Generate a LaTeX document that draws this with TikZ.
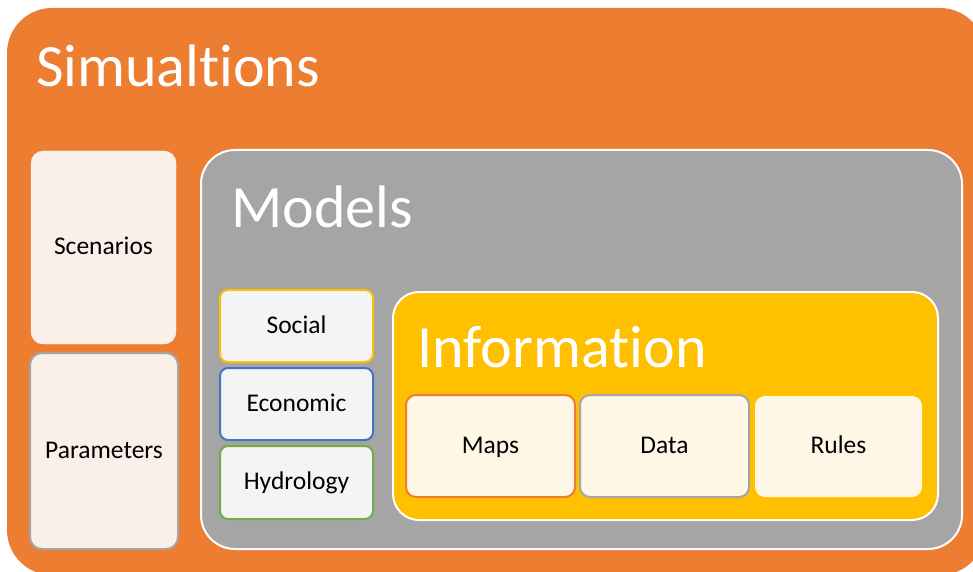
\documentclass[tikz,border=0pt]{standalone}
\usepackage{fontspec}
\setmainfont{Carlito}[Ligatures=NoCommon]
\definecolor{sorange}{HTML}{ED7D31}
\definecolor{sgray}{HTML}{A5A5A5}
\definecolor{sgold}{HTML}{FFC000}
\definecolor{spink}{HTML}{FBEFEA}
\definecolor{slight}{HTML}{F4F4F4}
\definecolor{scream}{HTML}{FFF7E6}
\definecolor{sblue}{HTML}{4472C4}
\definecolor{sgreen}{HTML}{70AD47}
\tikzset{
  bigtitle/.style={text=white, font=\fontsize{60}{64}\selectfont, anchor=base west, inner sep=0pt},
  smalltext/.style={font=\fontsize{25.5}{28}\selectfont, text=black, text height=0.64em, text depth=0pt, inner sep=0pt, yshift=-4.5pt},
  sidebox/.style={fill=spink, rounded corners=12pt},
  modbox/.style={fill=slight, rounded corners=8pt, line width=2pt},
  infobox/.style={fill=scream, rounded corners=10pt, line width=2pt},
}
\begin{document}
\begin{tikzpicture}[x=1pt,y=-1pt]
\useasboundingbox (0,0) rectangle (973,572);
\begin{scope}
\clip (0,0) rectangle (973,572);
% Simulations container
\fill[sorange, rounded corners=45pt] (7,8) rectangle (985,575);
\node[bigtitle] (simt) at (36,87) {Simual\hbox{t}ions};
% Side boxes
\draw[sidebox, draw=spink] (31,151) rectangle (176,344);
\node[smalltext] (scen) at (103.5,247) {Scenarios};
\draw[sidebox, draw=sgray, line width=2pt] (30,353) rectangle (178,549);
\node[smalltext] (par) at (104,451) {Parameters};
% Models
\draw[fill=sgray, draw=white, line width=2pt, rounded corners=34pt] (201,150) rectangle (962,549);
\node[bigtitle] (modt) at (231,227) {Models};
\draw[modbox, draw=sgold] (220,290) rectangle (373,362);
\node[smalltext] (soc) at (296.5,326) {Social};
\draw[modbox, draw=sblue] (220,368) rectangle (373,440);
\node[smalltext] (eco) at (296.5,404) {Economic};
\draw[modbox, draw=sgreen] (220,446) rectangle (373,519);
\node[smalltext] (hyd) at (296.5,482) {Hydrology};
% Information
\draw[fill=sgold, draw=white, line width=2pt, rounded corners=26pt] (393,292) rectangle (938,520);
\node[bigtitle] (inft) at (417,367) {Informa\hbox{t}ion};
\draw[infobox, draw=sorange] (406,395) rectangle (575,497);
\node[smalltext] (maps) at (490.5,446) {Maps};
\draw[infobox, draw=sgray] (580,395) rectangle (749,497);
\node[smalltext] (data) at (664.5,446) {Data};
\fill[scream, rounded corners=10pt] (755,396) rectangle (922,497);
\node[smalltext] (rules) at (838.5,446) {Rules};
\end{scope}
\end{tikzpicture}
\end{document}
